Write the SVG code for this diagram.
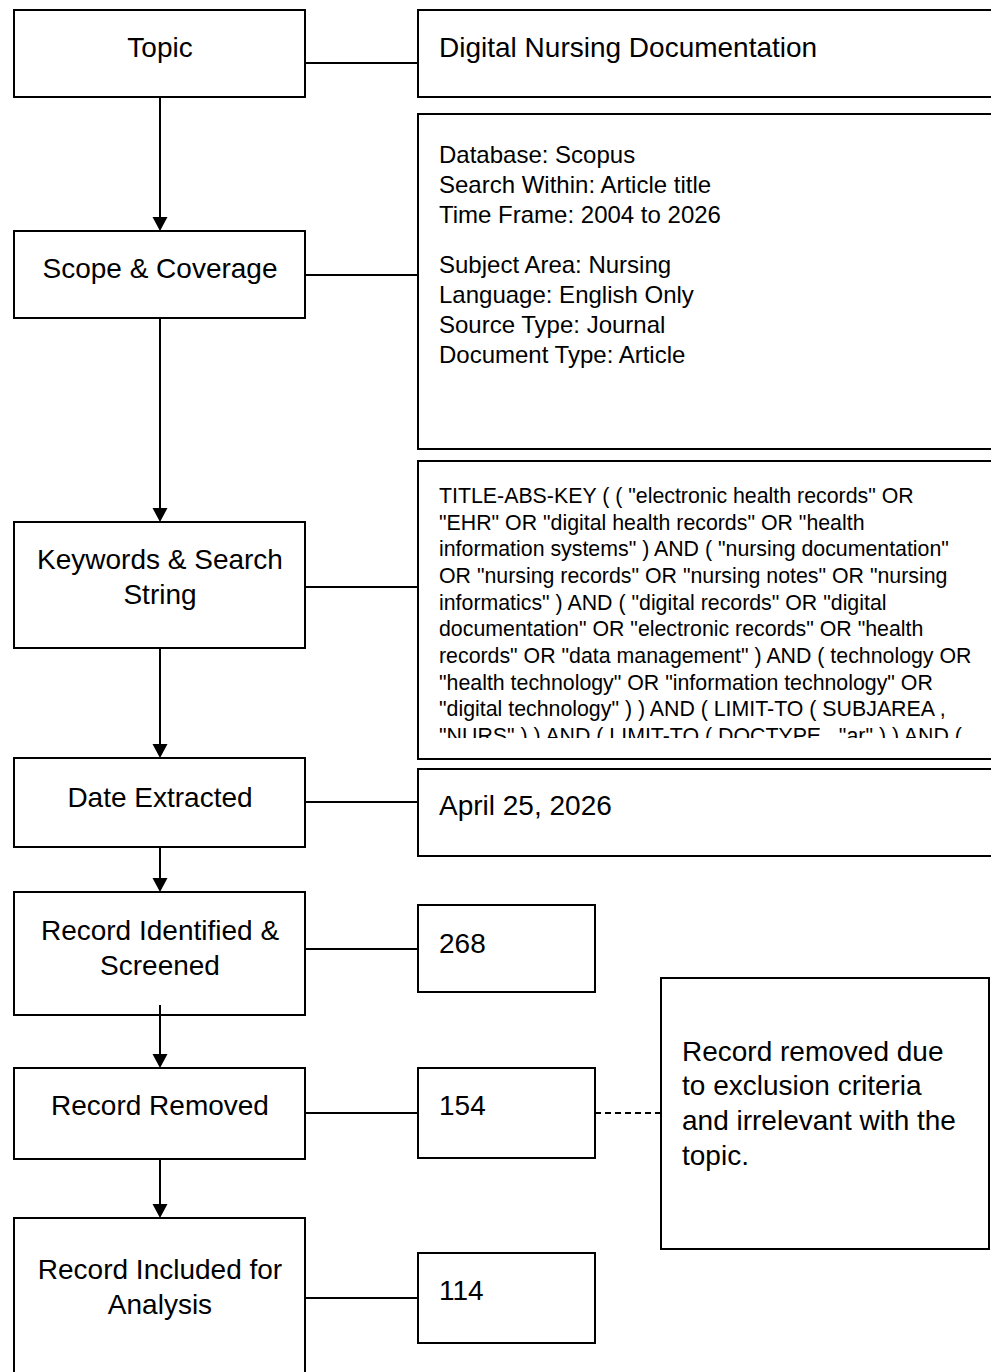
<svg xmlns="http://www.w3.org/2000/svg" width="991" height="1372" viewBox="0 0 991 1372">
<defs>
<style>
.box{fill:#fff;stroke:#000;stroke-width:2}
.lbl{font-family:"Liberation Sans",Arial,Helvetica,sans-serif;font-size:28px;fill:#000;text-anchor:middle}
.t28{font-family:"Liberation Sans",Arial,Helvetica,sans-serif;font-size:28px;fill:#000}
.t24{font-family:"Liberation Sans",Arial,Helvetica,sans-serif;font-size:24px;fill:#000}
.t21{font-family:"Liberation Sans",Arial,Helvetica,sans-serif;font-size:21.33px;fill:#000}
.ln{stroke:#000;stroke-width:2;fill:none}
.dash{stroke-dasharray:6 4}
.ah{fill:#000}
</style>
<clipPath id="kwclip"><rect x="418" y="461" width="600" height="277"/></clipPath>
</defs>
<rect width="991" height="1372" fill="#fff"/>

<g id="topic">
<rect class="box" x="14" y="10" width="291" height="87"/>
<text class="lbl" x="160" y="57">Topic</text>
</g>
<g id="topic-detail">
<rect class="box" x="418" y="10" width="600" height="87"/>
<text class="t28" x="439" y="57">Digital Nursing Documentation</text>
</g>

<g id="scope">
<rect class="box" x="14" y="231" width="291" height="87"/>
<text class="lbl" x="160" y="278">Scope &amp; Coverage</text>
</g>
<g id="scope-detail">
<rect class="box" x="418" y="114" width="600" height="335"/>
<text class="t24" x="439" y="163">Database: Scopus</text>
<text class="t24" x="439" y="193">Search Within: Article title</text>
<text class="t24" x="439" y="223">Time Frame: 2004 to 2026</text>
<text class="t24" x="439" y="273">Subject Area: Nursing</text>
<text class="t24" x="439" y="303">Language: English Only</text>
<text class="t24" x="439" y="333">Source Type: Journal</text>
<text class="t24" x="439" y="363">Document Type: Article</text>
</g>

<g id="keywords">
<rect class="box" x="14" y="522" width="291" height="126"/>
<text class="lbl" x="160" y="569">Keywords &amp; Search</text>
<text class="lbl" x="160" y="604">String</text>
</g>
<g id="keywords-detail">
<rect class="box" x="418" y="461" width="600" height="298"/>
<g clip-path="url(#kwclip)">
<text class="t21" x="439" y="503">TITLE-ABS-KEY ( ( "electronic health records" OR</text>
<text class="t21" x="439" y="529.7">"EHR" OR "digital health records" OR "health</text>
<text class="t21" x="439" y="556.3">information systems" ) AND ( "nursing documentation"</text>
<text class="t21" x="439" y="583">OR "nursing records" OR "nursing notes" OR "nursing</text>
<text class="t21" x="439" y="609.7">informatics" ) AND ( "digital records" OR "digital</text>
<text class="t21" x="439" y="636.3">documentation" OR "electronic records" OR "health</text>
<text class="t21" x="439" y="663">records" OR "data management" ) AND ( technology OR</text>
<text class="t21" x="439" y="689.7">"health technology" OR "information technology" OR</text>
<text class="t21" x="439" y="716.3">"digital technology" ) ) AND ( LIMIT-TO ( SUBJAREA ,</text>
<text class="t21" x="439" y="743">"NURS" ) ) AND ( LIMIT-TO ( DOCTYPE , "ar" ) ) AND (</text>
</g>
</g>

<g id="date">
<rect class="box" x="14" y="758" width="291" height="89"/>
<text class="lbl" x="160" y="807">Date Extracted</text>
</g>
<g id="date-detail">
<rect class="box" x="418" y="769" width="600" height="87"/>
<text class="t28" x="439" y="815">April 25, 2026</text>
</g>

<g id="identified">
<rect class="box" x="14" y="892" width="291" height="123"/>
<text class="lbl" x="160" y="940">Record Identified &amp;</text>
<text class="lbl" x="160" y="975">Screened</text>
</g>
<g id="identified-count">
<rect class="box" x="418" y="905" width="177" height="87"/>
<text class="t28" x="439" y="953">268</text>
</g>

<g id="removed">
<rect class="box" x="14" y="1068" width="291" height="91"/>
<text class="lbl" x="160" y="1115">Record Removed</text>
</g>
<g id="removed-count">
<rect class="box" x="418" y="1068" width="177" height="90"/>
<text class="t28" x="439" y="1115">154</text>
</g>
<g id="removed-note">
<rect class="box" x="661" y="978" width="328" height="271"/>
<text class="t28" x="682" y="1061">Record removed due</text>
<text class="t28" x="682" y="1095">to exclusion criteria</text>
<text class="t28" x="682" y="1130">and irrelevant with the</text>
<text class="t28" x="682" y="1165">topic.</text>
</g>

<g id="included">
<rect class="box" x="14" y="1218" width="291" height="170"/>
<text class="lbl" x="160" y="1279">Record Included for</text>
<text class="lbl" x="160" y="1314">Analysis</text>
</g>
<g id="included-count">
<rect class="box" x="418" y="1253" width="177" height="90"/>
<text class="t28" x="439" y="1300">114</text>
</g>

<g id="connectors">
<line class="ln" x1="160" y1="97" x2="160" y2="220"/>
<polygon class="ah" points="152.5,217 167.5,217 160,231"/>
<line class="ln" x1="160" y1="318" x2="160" y2="511"/>
<polygon class="ah" points="152.5,508 167.5,508 160,522"/>
<line class="ln" x1="160" y1="648" x2="160" y2="747"/>
<polygon class="ah" points="152.5,744 167.5,744 160,758"/>
<line class="ln" x1="160" y1="847" x2="160" y2="881"/>
<polygon class="ah" points="152.5,878 167.5,878 160,892"/>
<line class="ln" x1="160" y1="1005" x2="160" y2="1057"/>
<polygon class="ah" points="152.5,1054 167.5,1054 160,1068"/>
<line class="ln" x1="160" y1="1159" x2="160" y2="1207"/>
<polygon class="ah" points="152.5,1204 167.5,1204 160,1218"/>
<line class="ln" x1="305" y1="63" x2="418" y2="63"/>
<line class="ln" x1="305" y1="275" x2="418" y2="275"/>
<line class="ln" x1="305" y1="587" x2="418" y2="587"/>
<line class="ln" x1="305" y1="802" x2="418" y2="802"/>
<line class="ln" x1="305" y1="949" x2="418" y2="949"/>
<line class="ln" x1="305" y1="1113" x2="418" y2="1113"/>
<line class="ln" x1="305" y1="1298" x2="418" y2="1298"/>
<line class="ln dash" x1="595" y1="1113" x2="661" y2="1113"/>
</g>
</svg>
